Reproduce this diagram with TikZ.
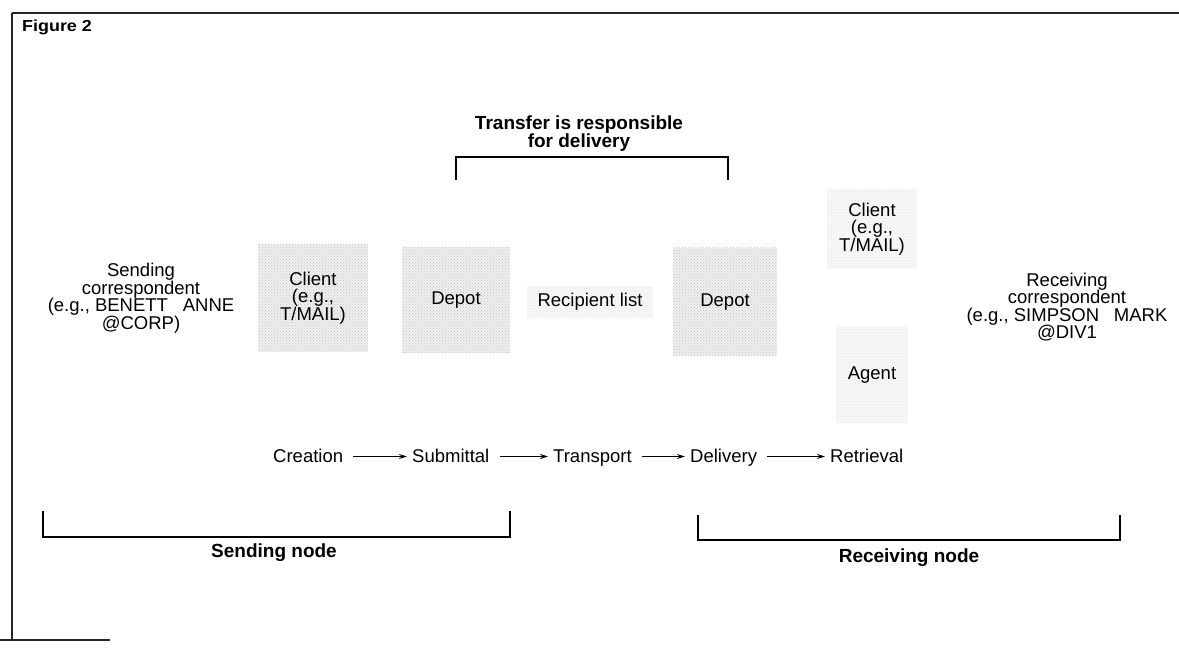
\documentclass[tikz,border=0pt]{standalone}
\usepackage{fontspec}
\setmainfont{Liberation Sans}
\newfontfamily\figfont[FakeStretch=1.12]{Liberation Sans}
\usetikzlibrary{arrows.meta,patterns}
\begin{document}
\begin{tikzpicture}[x=1pt,y=-1pt,
  frameline/.style={line width=1.3pt,black!85},
  brk/.style={line width=1.2pt},
  lbl/.style={align=center,font=\fontsize{18.5}{17.5}\selectfont,inner sep=0pt},
  bold/.style={align=center,font=\fontsize{19}{18}\selectfont\bfseries,inner sep=0pt},
  stip/.style={preaction={fill=black!6},pattern=crosshatch dots,pattern color=black!25},
  faint/.style={preaction={fill=black!3},pattern=dots,pattern color=black!16},
  flow/.style={anchor=base west,font=\fontsize{18.5}{18}\selectfont,inner sep=0pt,text height=13pt,text depth=0pt},
  arr/.style={line width=1.2pt,-{Stealth[length=8pt,width=5pt]},shorten <=10pt,shorten >=5pt}]
\useasboundingbox (0,0) rectangle (1179,660);
% frame
\draw[frameline] (12,13) -- (1179,13);
\draw[frameline] (12,13) -- (12,640);
\draw[frameline] (0,640) -- (110,640);
\node[anchor=north west,inner sep=0pt] (fig) at (22,20) {\figfont\fontsize{16}{18}\selectfont\bfseries Figure 2};
% transfer bracket
\node[bold] (transfer) at (579,134) {Transfer is responsible\\for delivery};
\coordinate (ta) at (456,180);
\coordinate (tb) at (728,180);
\draw[brk] (ta) -- (456,157) -- (728,157) -- (tb);
% correspondents
\node[lbl] (sendc) at (141,298) {Sending\\correspondent\\(e.g., BENETT\hspace{0.8em}ANNE\\@CORP)};
\node[lbl] (recvc) at (1067,307) {Receiving\\correspondent\\(e.g., SIMPSON\hspace{0.8em}MARK\\@DIV1};
% shaded boxes
\node[stip,lbl,minimum width=110pt,minimum height=108pt] (client) at (313,298) {Client\\(e.g.,\\T/MAIL)};
\node[stip,lbl,minimum width=108pt,minimum height=106pt] (depot1) at (456,300) {Depot};
\node[faint,lbl,minimum width=126pt,minimum height=32pt] (recip) at (590,302) {Recipient list};
\node[stip,lbl,minimum width=104pt,minimum height=108pt] (depot2) at (725,302) {Depot};
\node[faint,lbl,minimum width=90pt,minimum height=80pt] (rclient) at (872,229) {Client\\(e.g.,\\T/MAIL)};
\node[faint,lbl,minimum width=72pt,minimum height=96pt] (agent) at (872,375) {Agent};
% flow
\node[flow] (creation) at (273,463) {Creation};
\node[flow] (submittal) at (412,463) {Submittal};
\node[flow] (transport) at (553,463) {Transport};
\node[flow] (delivery) at (690,463) {Delivery};
\node[flow] (retrieval) at (830,463) {Retrieval};
\draw[arr] (creation.east) -- (submittal.west);
\draw[arr] (submittal.east) -- (transport.west);
\draw[arr] (transport.east) -- (delivery.west);
\draw[arr] (delivery.east) -- (retrieval.west);
% bottom brackets
\coordinate (sa) at (43,511);
\coordinate (sb) at (510,511);
\draw[brk] (sa) -- (43,537) -- (510,537) -- (sb);
\node[bold] (sendn) at (274,553) {Sending node};
\coordinate (ra) at (698,515);
\coordinate (rb) at (1120,515);
\draw[brk] (ra) -- (698,540) -- (1120,540) -- (rb);
\node[bold] (recvn) at (909,558) {Receiving node};
\end{tikzpicture}
\end{document}
